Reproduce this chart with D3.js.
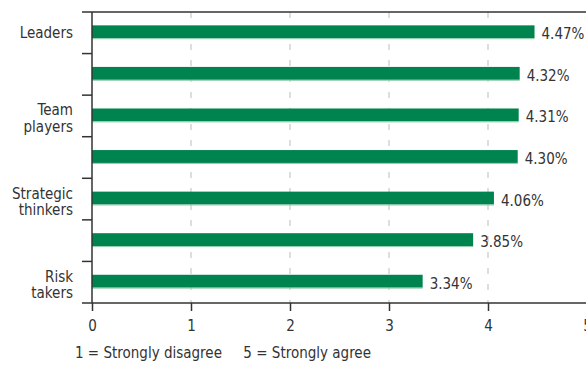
<!DOCTYPE html>
<html>
<head>
<meta charset="utf-8">
<script src="https://cdn.jsdelivr.net/npm/d3@7"></script>
<style>
  body { margin: 0; background: #fff; }
  text { font-family: "DejaVu Sans Condensed", "DejaVu Sans", sans-serif; fill: #333; }
</style>
</head>
<body>
<svg id="chart" width="586" height="375"></svg>
<script>
// values
const categories = ["Leaders", "", "Team players", "", "Strategic thinkers", "", "Risk takers"];
const values = [4.47, 4.32, 4.31, 4.30, 4.06, 3.85, 3.34];
const xTicks = [0, 1, 2, 3, 4, 5];
const footnote = "1 = Strongly disagree     5 = Strongly agree";

const margin = {top: 12, right: 0, bottom: 72, left: 92};
const width = 586, height = 375;
const fontSize = 15;

const svg = d3.select('#chart');

const x = d3.scaleLinear()
    .domain([0, 5])
    .range([margin.left, margin.left + 495]);

const y = d3.scaleBand()
    .domain(d3.range(categories.length))
    .range([margin.top, height - margin.bottom]);

const bottomY = y.range()[1];
const barH = y.bandwidth() * 0.31;

// dashed gridlines
svg.append('g')
  .selectAll('line')
  .data(xTicks.filter(d => d > 0))
  .join('line')
    .attr('x1', d => x(d)).attr('x2', d => x(d))
    .attr('y1', margin.top).attr('y2', bottomY)
    .attr('stroke', '#d3d3d3')
    .attr('stroke-width', 1.5)
    .attr('stroke-dasharray', '6,10');

// bars
const bars = svg.append('g');
bars.selectAll('rect')
  .data(values)
  .join('rect')
    .attr('x', x(0))
    .attr('y', (d, i) => y(i) + y.bandwidth() / 2 - 1 - barH / 2)
    .attr('width', d => x(d) - x(0))
    .attr('height', barH)
    .attr('fill', '#00844f');

// light lower edge of each bar
bars.selectAll('line')
  .data(values)
  .join('line')
    .attr('x1', x(0))
    .attr('x2', d => x(d))
    .attr('y1', (d, i) => y(i) + y.bandwidth() / 2 - 1 + barH / 2 + 0.5)
    .attr('y2', (d, i) => y(i) + y.bandwidth() / 2 - 1 + barH / 2 + 0.5)
    .attr('stroke', '#8ccbaa')
    .attr('stroke-width', 1);

// value labels
svg.append('g')
  .selectAll('text')
  .data(values)
  .join('text')
    .attr('x', d => x(d) + 7)
    .attr('y', (d, i) => y(i) + y.bandwidth() / 2 + 6.5)
    .attr('font-size', fontSize)
    .text(d => d.toFixed(2) + '%');

// top rule and y axis with ticks at band edges
const yEdges = d3.range(categories.length + 1).map(i => i < categories.length ? y(i) : bottomY);
svg.append('line')
    .attr('x1', margin.left - 10).attr('x2', width)
    .attr('y1', margin.top).attr('y2', margin.top)
    .attr('stroke', '#333').attr('stroke-width', 1.5);

svg.append('g')
  .selectAll('line')
  .data(yEdges.slice(1, -1))
  .join('line')
    .attr('x1', margin.left - 10).attr('x2', margin.left)
    .attr('y1', d => d).attr('y2', d => d)
    .attr('stroke', '#333').attr('stroke-width', 1.5);

svg.append('line')
    .attr('x1', margin.left).attr('x2', margin.left)
    .attr('y1', margin.top).attr('y2', bottomY)
    .attr('stroke', '#333').attr('stroke-width', 1.5);

// x axis
const xAxis = svg.append('g')
    .attr('transform', `translate(0,${bottomY})`)
    .call(d3.axisBottom(x).tickValues(xTicks).tickFormat(d3.format('d'))
      .tickSize(8).tickPadding(9).tickSizeOuter(0));
xAxis.select('.domain').remove();
xAxis.selectAll('.tick line').attr('stroke', '#333').attr('stroke-width', 1.5);
xAxis.selectAll('.tick text')
    .attr('font-size', fontSize)
    .attr('font-family', '"DejaVu Sans Condensed", "DejaVu Sans", sans-serif')
    .attr('fill', '#333');
svg.append('line')
    .attr('x1', margin.left - 10).attr('x2', width)
    .attr('y1', bottomY).attr('y2', bottomY)
    .attr('stroke', '#333').attr('stroke-width', 1.5);

// category labels (wrapped onto two lines)
const labels = svg.append('g');
categories.forEach((c, i) => {
  if (!c) return;
  const words = c.split(' ');
  const cy = y(i) + y.bandwidth() / 2 - 1;
  const t = labels.append('text')
      .attr('text-anchor', 'end')
      .attr('font-size', fontSize);
  if (words.length === 1) {
    t.append('tspan').attr('x', 73).attr('y', cy + 6).text(words[0]);
  } else {
    t.append('tspan').attr('x', 73).attr('y', cy + 0.5).text(words[0]);
    t.append('tspan').attr('x', 73).attr('y', cy + 17).text(words.slice(1).join(' '));
  }
});

// footnote
svg.append('text')
    .attr('x', 75)
    .attr('y', 358)
    .attr('font-size', fontSize)
    .style('white-space', 'pre')
    .text(footnote);
</script>
</body>
</html>
